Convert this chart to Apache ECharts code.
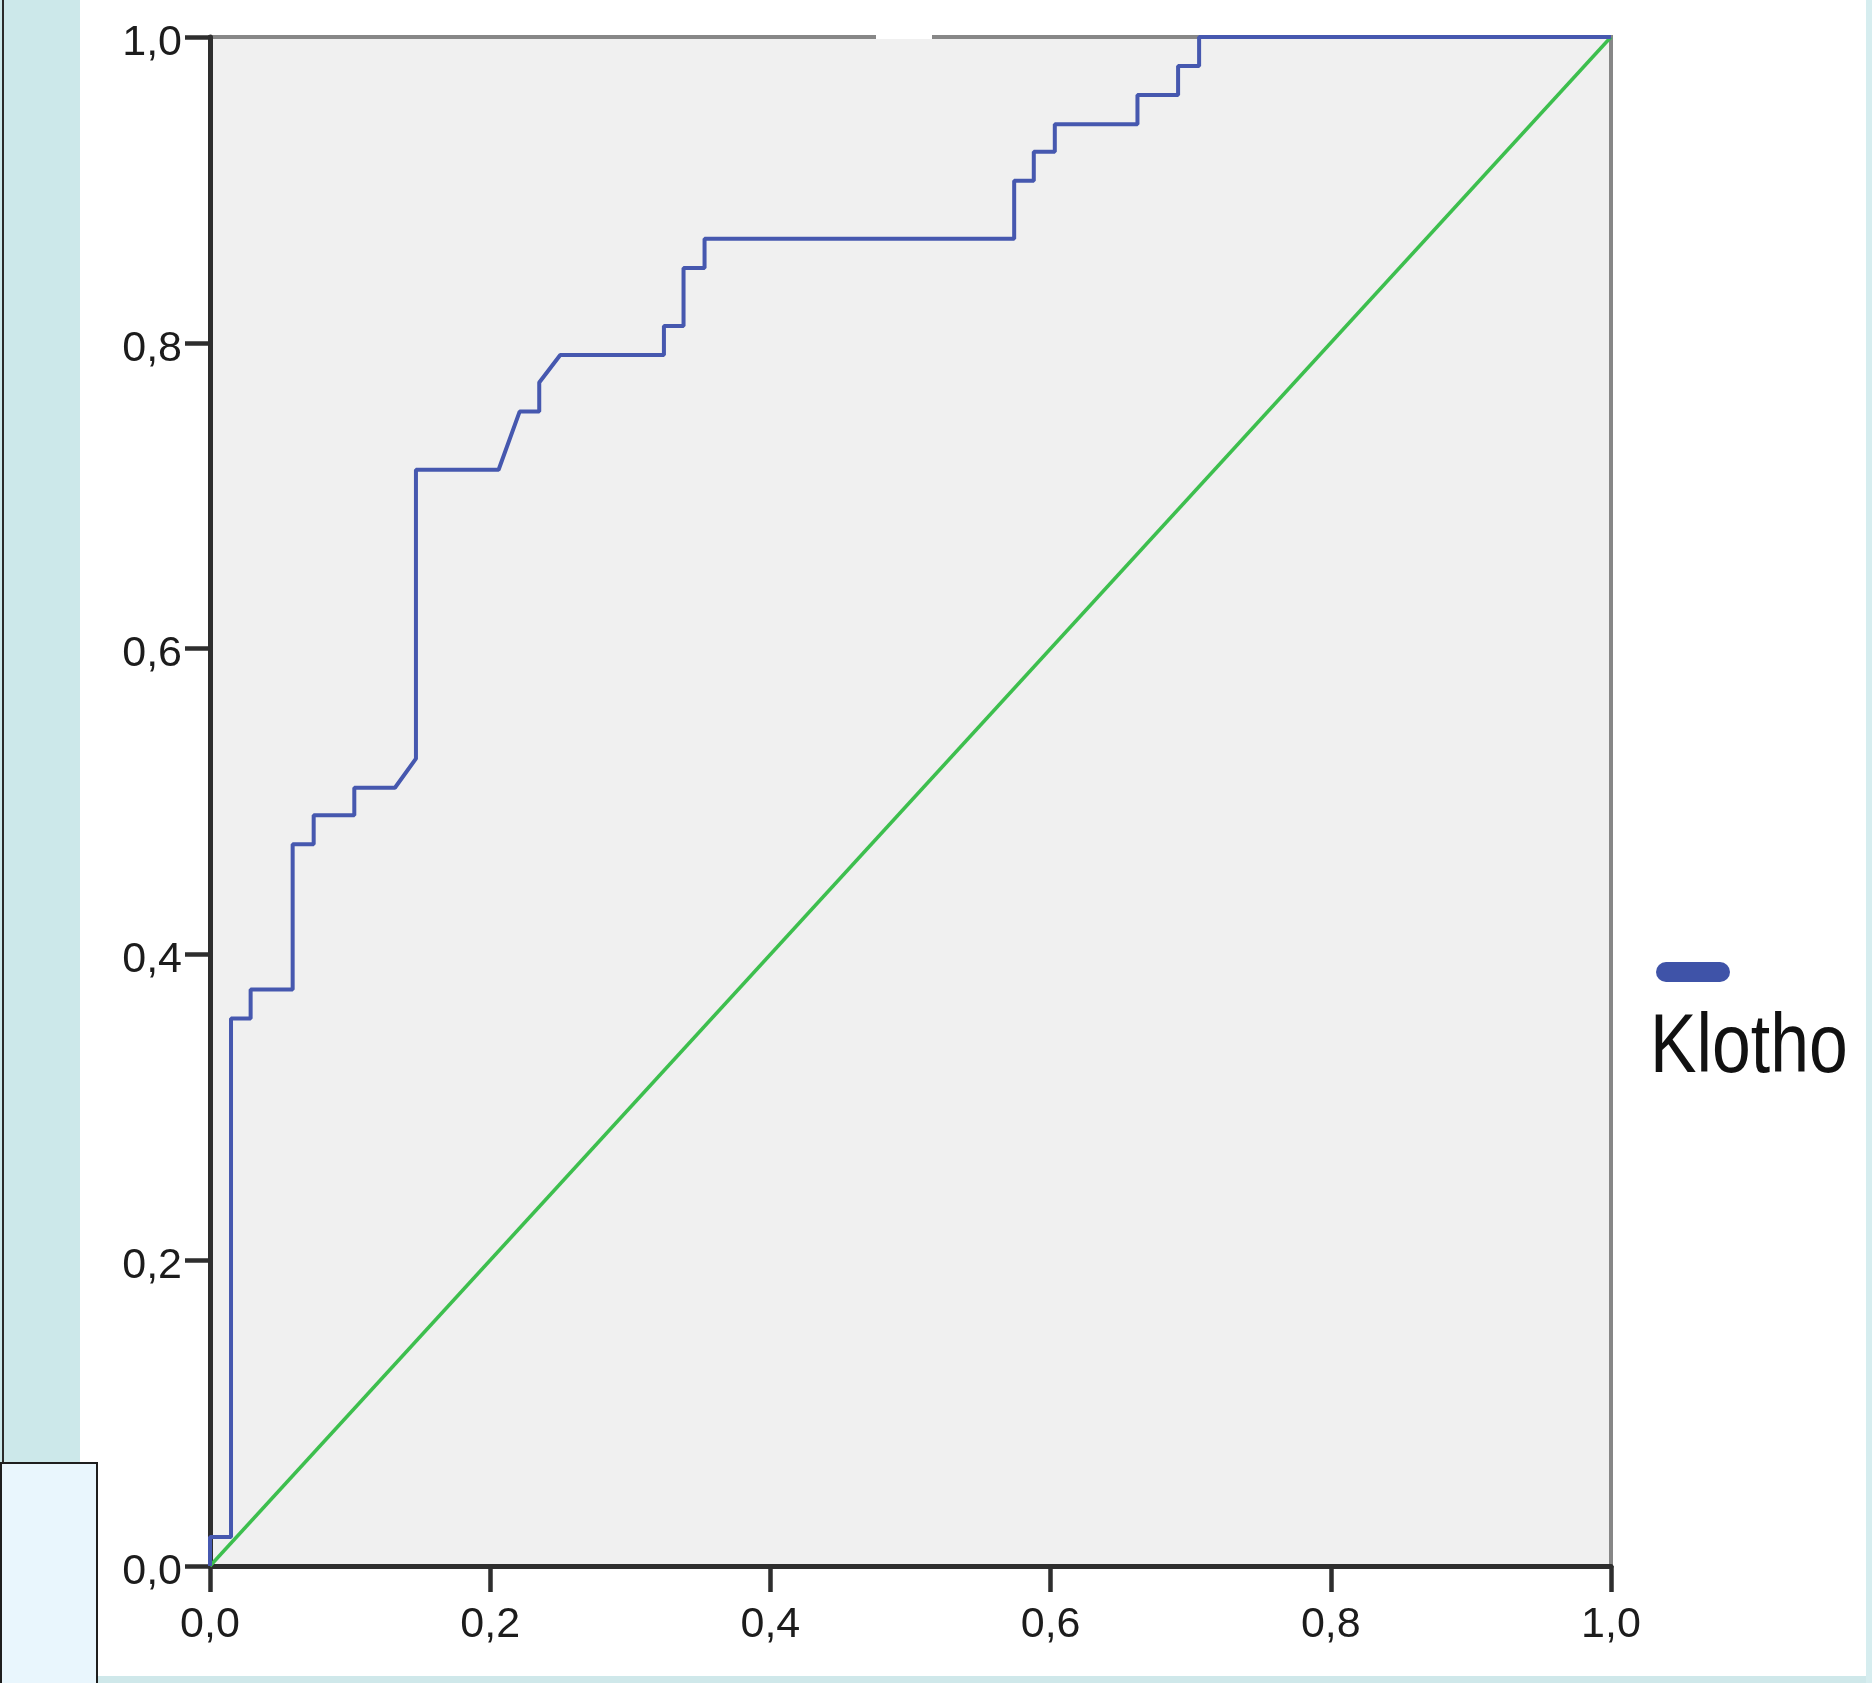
<!DOCTYPE html>
<html>
<head>
<meta charset="utf-8">
<script src="https://cdn.jsdelivr.net/npm/echarts@6/dist/echarts.min.js"></script>
<style>
html,body{margin:0;padding:0;background:#ffffff;}
#chart{width:1872px;height:1683px;}
</style>
</head>
<body>
<div id="chart"></div>
<script>
// ROC curve for Klotho: 1 - specificity (x) and sensitivity (y)
const fpr = [0, 0, 0.015, 0.015, 0.029, 0.029, 0.059, 0.059, 0.074, 0.074, 0.103, 0.103, 0.132, 0.147, 0.147, 0.206, 0.221, 0.235, 0.235, 0.250, 0.324, 0.324, 0.338, 0.338, 0.353, 0.353, 0.574, 0.574, 0.588, 0.588, 0.603, 0.603, 0.662, 0.662, 0.691, 0.691, 0.706, 0.706, 1.0];
const tpr = [0, 0.019, 0.019, 0.358, 0.358, 0.377, 0.377, 0.472, 0.472, 0.491, 0.491, 0.509, 0.509, 0.528, 0.717, 0.717, 0.755, 0.755, 0.774, 0.792, 0.792, 0.811, 0.811, 0.849, 0.849, 0.868, 0.868, 0.906, 0.906, 0.925, 0.925, 0.943, 0.943, 0.962, 0.962, 0.981, 0.981, 1.0, 1.0];
// Reference (chance) diagonal
const refX = [0, 1];
const refY = [0, 1];
const tickLabels = ['0,0', '0,2', '0,4', '0,6', '0,8', '1,0'];
const seriesName = 'Klotho';

const curve = fpr.map((x, i) => [x, tpr[i]]);
const diag = refX.map((x, i) => [x, refY[i]]);

const chart = echarts.init(document.getElementById('chart'), null, {renderer: 'canvas'});
const labelFont = "'Liberation Sans', Arial, sans-serif";
const fmt = v => tickLabels[Math.round(v / 0.2)];
const axisColor = '#2e2e2e';

chart.setOption({
  backgroundColor: '#ffffff',
  animation: false,
  grid: {
    left: 210, top: 37, right: 261, bottom: 117,
    show: true, backgroundColor: '#f0f0f0',
    borderColor: '#878787', borderWidth: 4
  },
  xAxis: {
    type: 'value', min: 0, max: 1, interval: 0.2,
    axisLine: {show: true, onZero: false, lineStyle: {color: axisColor, width: 5}},
    axisTick: {show: true, length: 26, lineStyle: {color: axisColor, width: 4.5}},
    splitLine: {show: false},
    axisLabel: {
      formatter: fmt, margin: 38, color: '#1c1c1c',
      fontSize: 43, fontFamily: labelFont,
      showMinLabel: true, showMaxLabel: true
    }
  },
  yAxis: {
    type: 'value', min: 0, max: 1, interval: 0.2,
    axisLine: {show: true, onZero: false, lineStyle: {color: axisColor, width: 5}},
    axisTick: {show: true, length: 25, lineStyle: {color: axisColor, width: 4.5}},
    splitLine: {show: false},
    axisLabel: {
      formatter: fmt, margin: 28, color: '#1c1c1c',
      fontSize: 43, fontFamily: labelFont,
      verticalAlign: 'top', lineHeight: 12,
      showMinLabel: true, showMaxLabel: true
    }
  },
  series: [
    {
      name: 'Reference', type: 'line', data: diag, symbol: 'none', clip: false,
      lineStyle: {color: '#3dbf4e', width: 3.5}, z: 2
    },
    {
      name: seriesName, type: 'line', data: curve, symbol: 'none', clip: false,
      lineStyle: {color: '#4658af', width: 4}, z: 3
    }
  ],
  graphic: [
    {type: 'rect', z: -10, silent: true, shape: {x: 0, y: 0, width: 80, height: 1463}, style: {fill: '#cce8ea'}},
    {type: 'line', z: -9, silent: true, shape: {x1: 3, y1: 0, x2: 3, y2: 1463}, style: {stroke: '#2a2a2a', lineWidth: 2}},
    {type: 'rect', z: -8, silent: true, shape: {x: 1, y: 1463, width: 96, height: 224}, style: {fill: '#e9f6fd', stroke: '#1e1e1e', lineWidth: 2}},
    {type: 'rect', z: -10, silent: true, shape: {x: 98, y: 1676, width: 1774, height: 7}, style: {fill: '#cfe8ea'}},
    {type: 'rect', z: -10, silent: true, shape: {x: 1866, y: 0, width: 6, height: 1683}, style: {fill: '#d6edef'}},
    {type: 'rect', z: 100, silent: true, shape: {x: 876, y: 28, width: 56, height: 11}, style: {fill: '#ffffff'}},
    {type: 'rect', z: 10, silent: true, shape: {x: 1656, y: 962, width: 74, height: 20, r: 10}, style: {fill: '#3f53a8'}},
    {type: 'text', z: 10, silent: true, x: 1650, y: 1049, scaleX: 0.83, scaleY: 1, style: {
      text: seriesName, fill: '#111111',
      font: "84px 'Liberation Sans', Arial, sans-serif",
      textAlign: 'left', textVerticalAlign: 'middle'
    }}
  ]
});
</script>
</body>
</html>
